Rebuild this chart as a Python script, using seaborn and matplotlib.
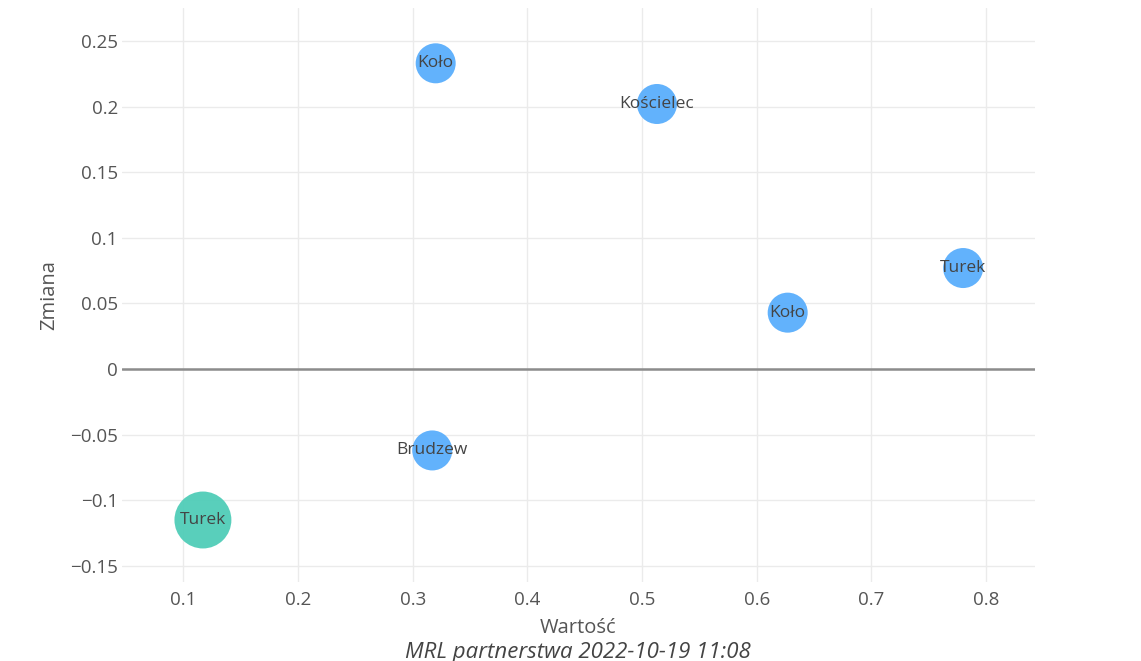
import pandas as pd
import numpy as np
import matplotlib.pyplot as plt
import seaborn as sns
from matplotlib.ticker import FuncFormatter

# --- data ---
names = ['Koło', 'Kościelec', 'Turek', 'Koło', 'Brudzew', 'Turek']
wartosc = [0.320, 0.513, 0.780, 0.627, 0.317, 0.117]
zmiana = [0.233, 0.202, 0.077, 0.043, -0.062, -0.115]
group = ['gmina', 'gmina', 'gmina', 'gmina', 'gmina', 'miasto']

colors = {'gmina': '#5aaefc', 'miasto': '#50cdb8'}
sizes = {'gmina': 830, 'miasto': 1680}

df = pd.DataFrame({'name': names, 'Wartość': wartosc, 'Zmiana': zmiana, 'group': group})

sns.set_theme(style='white')
plt.rcParams['font.family'] = ['Open Sans', 'DejaVu Sans']
plt.rcParams['axes.unicode_minus'] = True

fig = plt.figure(figsize=(11.41, 6.61), dpi=100)
ax = fig.add_axes([0.1069, 0.12, 0.8002, 0.868])

ax.axhline(0, color='#8c8c8c', lw=1.8, zorder=1)
sns.scatterplot(data=df, x='Wartość', y='Zmiana', hue='group', size='group',
                palette=colors, sizes=sizes, alpha=0.95, edgecolor='none',
                legend=False, ax=ax, zorder=3)

for _, r in df.iterrows():
    ax.text(r['Wartość'], r['Zmiana'], r['name'], ha='center', va='center',
            fontsize=12.5, color='#444444', zorder=4)

ax.set_xlim(0.0464, 0.8427)
ax.set_ylim(-0.162, 0.2752)
ax.set_xticks(np.arange(0.1, 0.81, 0.1))
ax.set_yticks(np.arange(-0.15, 0.26, 0.05))

fmt = FuncFormatter(lambda v, p: ('%g' % round(v, 4)).replace('-', '\u2212') if abs(v) > 1e-9 else '0')
ax.xaxis.set_major_formatter(fmt)
ax.yaxis.set_major_formatter(fmt)

ax.grid(True, color='#ebebeb', lw=1)
for s in ax.spines.values():
    s.set_visible(False)
ax.tick_params(axis='both', length=0, labelsize=13.5, labelcolor='#555555')
ax.tick_params(axis='y', pad=3)
ax.tick_params(axis='x', pad=7)

ax.set_xlabel('Wartość', fontsize=14.5, color='#555555', labelpad=6)
ax.set_ylabel('Zmiana', fontsize=14.5, color='#555555', labelpad=8)

fig.text(0.5065, 0.0136, 'MRL partnerstwa 2022-10-19 11:08', ha='center', va='center',
         fontsize=16, style='italic', color='#444444')

fig.savefig('out.png', dpi=100)
